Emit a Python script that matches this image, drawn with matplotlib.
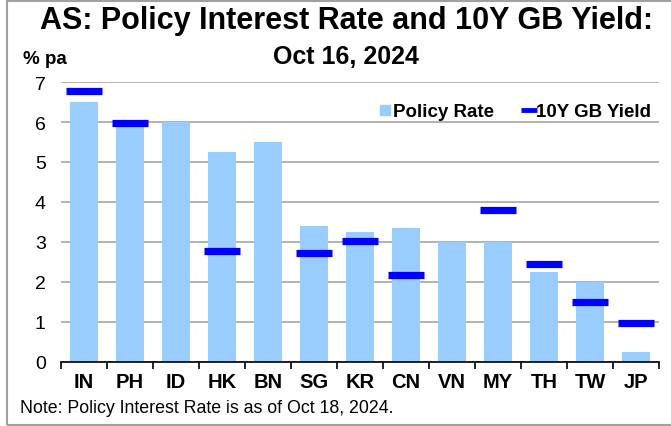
import matplotlib.pyplot as plt
from matplotlib.lines import Line2D
from matplotlib.patches import Rectangle

plt.rcParams['font.family'] = ['Liberation Sans', 'DejaVu Sans']

# data
countries = ["IN", "PH", "ID", "HK", "BN", "SG", "KR", "CN", "VN", "MY", "TH", "TW", "JP"]
policy_rate = [6.5, 6.0, 6.0, 5.25, 5.5, 3.4, 3.25, 3.35, 3.0, 3.0, 2.25, 2.0, 0.25]
gb_yield = [6.78, 5.97, None, 2.78, None, 2.72, 3.02, 2.17, None, 3.80, 2.44, 1.51, 0.97]

bar_color = "#99CCFF"
yield_color = "#0000FF"

fig = plt.figure(figsize=(6.71, 4.27), dpi=100)
ax = fig.add_axes([61 / 671, 1 - 363 / 427, 598 / 671, 280 / 427])

x = list(range(len(countries)))
ax.bar(x, policy_rate, width=0.59, color=bar_color, zorder=2)

yx = [i for i, v in zip(x, gb_yield) if v is not None]
yv = [v for v in gb_yield if v is not None]
ax.plot(yx, yv, linestyle="none", marker="_", markersize=25.5, markeredgewidth=5.2,
        color=yield_color, zorder=3)

ax.set_xlim(-0.5, len(countries) - 0.5)
ax.set_ylim(0, 7)
ax.set_yticks(range(0, 8))
ax.yaxis.grid(True, color="#A6A6A6", linewidth=1.2, zorder=0)
ax.set_axisbelow(True)
for s in ["left", "right", "top"]:
    ax.spines[s].set_visible(False)
ax.spines["bottom"].set_linewidth(1.2)
ax.tick_params(axis="y", length=0, labelsize=14, pad=11)
ax.set_xticks(x)
ax.set_xticklabels(countries, fontsize=14.5, fontweight="bold")
ax.tick_params(axis="x", length=0, pad=7)
ax.set_xticks([i - 0.5 for i in range(len(countries) + 1)], minor=True)
ax.tick_params(axis="x", which="minor", length=5, width=1.2, direction="out")

handles = [
    Line2D([], [], linestyle="none", marker="s", markersize=7.5, color=bar_color),
    Line2D([], [], linestyle="none", marker="_", markersize=11, markeredgewidth=3.5, color=yield_color),
]
ax.legend(handles, ["Policy Rate", "10Y GB Yield"], loc="upper right", ncol=2, frameon=False,
          prop={"weight": "bold", "size": 13.5}, handlelength=0.5, handletextpad=0.15,
          columnspacing=1.6, bbox_to_anchor=(1.015, 0.985))

fig.text(347 / 671, 1 - 21 / 427, "AS: Policy Interest Rate and 10Y GB Yield:", ha="center",
         va="center", fontsize=22, fontweight="bold")
fig.text(346 / 671, 1 - 57 / 427, "Oct 16, 2024", ha="center", va="center", fontsize=18,
         fontweight="bold")
fig.text(23 / 671, 1 - 60 / 427, "% pa", ha="left", va="center", fontsize=13.5, fontweight="bold")
fig.text(20 / 671, 1 - 409 / 427, "Note: Policy Interest Rate is as of Oct 18, 2024.", ha="left",
         va="center", fontsize=12.8)

fig.patches.append(Rectangle((7 / 671, 1 / 427), 700 / 671, 424 / 427, transform=fig.transFigure,
                             fill=False, edgecolor="#A0A0A0", linewidth=1.5))

fig.savefig("out.png", dpi=100)
